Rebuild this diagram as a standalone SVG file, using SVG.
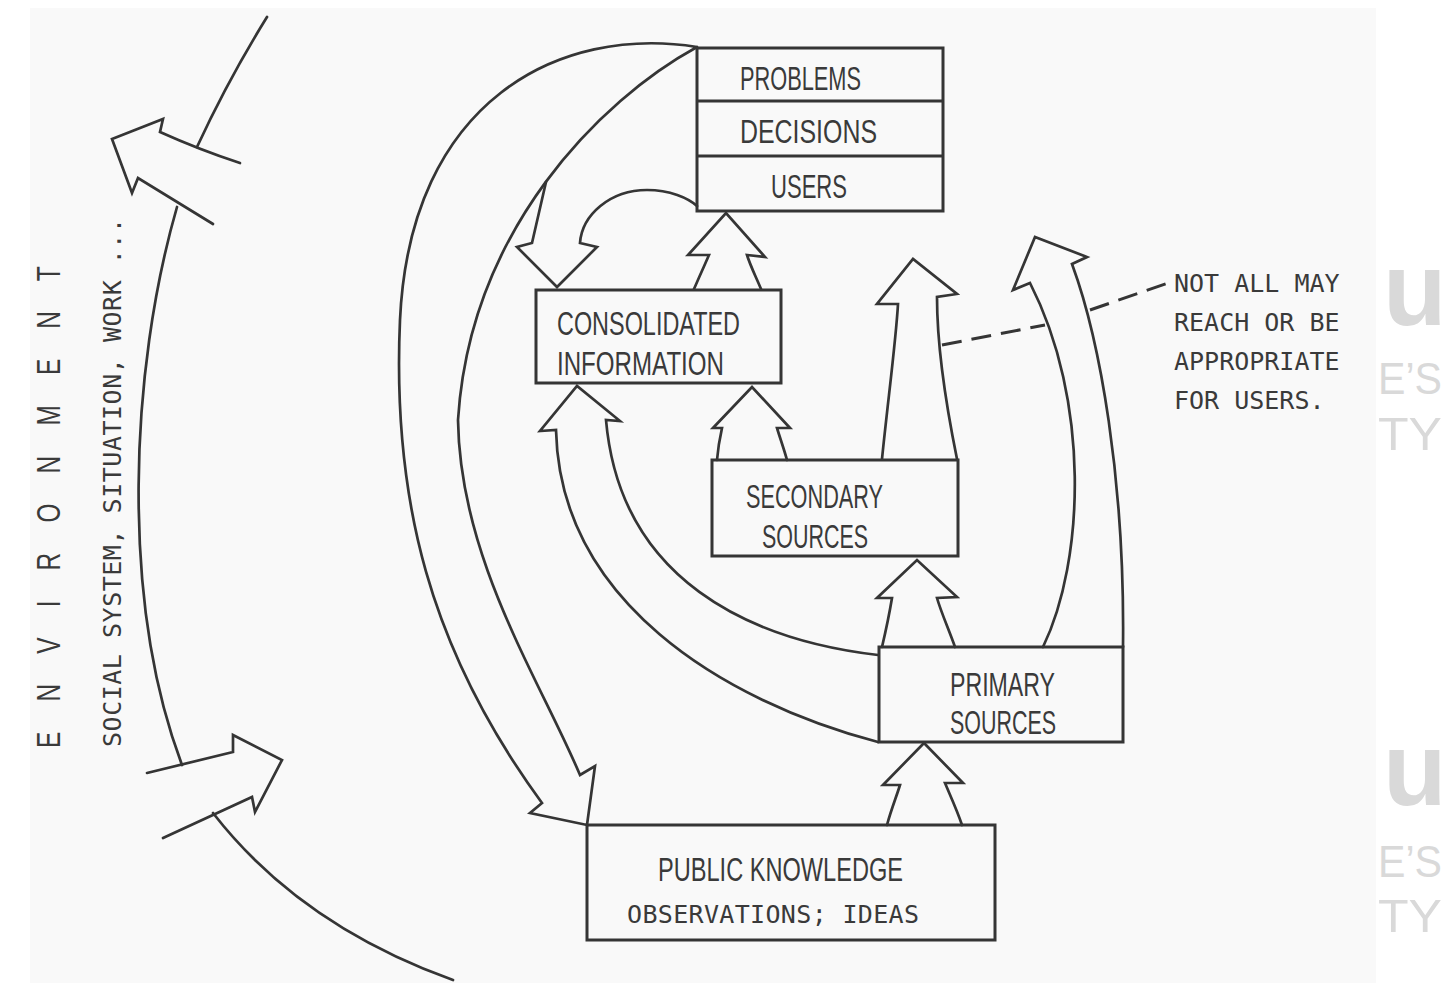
<svg xmlns="http://www.w3.org/2000/svg" width="1452" height="983" viewBox="0 0 1452 983">
<style>
.ln{fill:none;stroke:#353535;stroke-width:2.7;stroke-linejoin:miter;stroke-linecap:round}
.box{fill:none;stroke:#353535;stroke-width:3}
.lbl{font-family:"Liberation Sans",Arial,sans-serif;font-size:34px;fill:#3a3a3a}
.mono{font-family:"DejaVu Sans Mono","Liberation Mono",monospace;font-size:25px;fill:#3a3a3a}
.wm{font-family:"Liberation Sans",Arial,sans-serif;fill:#d9d9d9}
.dash{fill:none;stroke:#353535;stroke-width:3;stroke-dasharray:20 10}
</style>
<rect x="0" y="0" width="1452" height="983" fill="#ffffff"/>
<rect x="30" y="8" width="1346" height="975" fill="#f9f9f9"/>

<g id="environment">
  <path class="ln" d="M267,17 Q228,80 197,147"/>
  <path class="ln" d="M177,207 C130,370 120,600 182,765"/>
  <path class="ln" d="M213,813 Q300,925 453,980"/>
  <path class="ln" d="M240,163 Q200,150 160,132 L163,119 L112,139 L132,193 L138,178 L213,224"/>
  <path class="ln" d="M147,773 L233,752 L233,735 L282,760 L255,812 L252,797 L163,838"/>
  <text class="lbl" transform="translate(60,748) rotate(-90) scale(0.72,1)" font-size="36" textLength="669" lengthAdjust="spacing">E N V I R O N M E N T</text>
  <text class="mono" transform="translate(121,747) rotate(-90)" textLength="529" lengthAdjust="spacing">SOCIAL SYSTEM, SITUATION, WORK ...</text>
</g>

<g id="connectors">
  <!-- Problems/Users -> Public knowledge (big left arrow) -->
  <path class="ln" d="M697,47 C560,25 410,100 400,320 C392,500 430,650 542,803 L530,813 L587,825 L595,766 L580,775 C540,680 460,560 458,420 C470,230 600,100 697,47"/>
  <!-- branch down to Consolidated -->
  <path class="ln" d="M546,182 L532,243 L517,247 L557,287 L597,247 L580,243 C582,215 610,190 647,190 C670,190 688,198 697,206"/>
  <!-- Consolidated -> Users -->
  <path class="ln" d="M694,289 C700,275 706,262 709,255 L688,255 L726,213 L765,257 L747,255 C750,265 756,277 761,289"/>
  <!-- Secondary -> Consolidated -->
  <path class="ln" d="M717,460 C718,448 720,437 722,428 L713,428 L752,387 L790,428 L777,428 C780,438 784,449 787,460"/>
  <!-- Primary -> Consolidated (curved) -->
  <path class="ln" d="M878,742 C720,700 560,600 556,430 L540,431 L577,386 L620,421 L606,420 C620,580 750,640 878,655"/>
  <!-- Secondary -> up (not all reach) -->
  <path class="ln" d="M882,459 C888,400 896,340 898,304 L877,304 L913,259 L957,294 L937,297 C937,340 945,400 957,459"/>
  <!-- Primary -> up (big curved) -->
  <path class="ln" d="M1043,647 C1085,560 1090,400 1030,283 L1013,290 L1035,237 L1087,257 L1072,264 C1100,340 1125,480 1123,647"/>
  <!-- Primary -> Secondary -->
  <path class="ln" d="M882,647 C886,630 890,610 892,598 L877,598 L917,560 L957,597 L937,598 C941,612 949,630 955,647"/>
  <!-- Public -> Primary -->
  <path class="ln" d="M887,825 C891,810 897,795 900,785 L883,785 L924,743 L963,783 L945,783 C950,795 957,810 962,825"/>
  <!-- dashed annotation leader -->
  <path class="dash" d="M942,345 L1045,325"/>
  <path class="dash" d="M1090,310 L1168,283"/>
</g>

<g id="node-problems">
  <rect class="box" x="697" y="48" width="246" height="163"/>
  <line class="box" x1="697" y1="101" x2="943" y2="101"/>
  <line class="box" x1="697" y1="156" x2="943" y2="156"/>
  <text class="lbl" x="740" y="90" textLength="121" lengthAdjust="spacingAndGlyphs">PROBLEMS</text>
  <text class="lbl" x="740" y="143" textLength="137" lengthAdjust="spacingAndGlyphs">DECISIONS</text>
  <text class="lbl" x="771" y="198" textLength="76" lengthAdjust="spacingAndGlyphs">USERS</text>
</g>

<g id="node-consolidated">
  <rect class="box" x="536" y="290" width="245" height="93"/>
  <text class="lbl" x="557" y="335" textLength="183" lengthAdjust="spacingAndGlyphs">CONSOLIDATED</text>
  <text class="lbl" x="557" y="375" textLength="167" lengthAdjust="spacingAndGlyphs">INFORMATION</text>
</g>

<g id="node-secondary">
  <rect class="box" x="712" y="460" width="246" height="96"/>
  <text class="lbl" x="746" y="508" textLength="137" lengthAdjust="spacingAndGlyphs">SECONDARY</text>
  <text class="lbl" x="762" y="548" textLength="106" lengthAdjust="spacingAndGlyphs">SOURCES</text>
</g>

<g id="node-primary">
  <rect class="box" x="879" y="647" width="244" height="95"/>
  <text class="lbl" x="950" y="696" textLength="105" lengthAdjust="spacingAndGlyphs">PRIMARY</text>
  <text class="lbl" x="950" y="734" textLength="106" lengthAdjust="spacingAndGlyphs">SOURCES</text>
</g>

<g id="node-public">
  <rect class="box" x="587" y="825" width="408" height="115"/>
  <text class="lbl" x="658" y="881" textLength="245" lengthAdjust="spacingAndGlyphs">PUBLIC KNOWLEDGE</text>
  <text class="mono" x="627" y="923" textLength="292" lengthAdjust="spacing">OBSERVATIONS; IDEAS</text>
</g>

<g id="note">
  <text class="mono" x="1174" y="292">NOT ALL MAY</text>
  <text class="mono" x="1174" y="331">REACH OR BE</text>
  <text class="mono" x="1174" y="370">APPROPRIATE</text>
  <text class="mono" x="1174" y="409">FOR USERS.</text>
</g>

<g id="watermark">
  <text class="wm" x="1383" y="325" font-size="104" font-weight="bold">u</text>
  <text class="wm" x="1378" y="394" font-size="44" textLength="64" lengthAdjust="spacingAndGlyphs">E’S</text>
  <text class="wm" x="1378" y="450" font-size="46" textLength="64" lengthAdjust="spacingAndGlyphs">TY</text>
  <text class="wm" x="1383" y="805" font-size="104" font-weight="bold">u</text>
  <text class="wm" x="1378" y="877" font-size="44" textLength="64" lengthAdjust="spacingAndGlyphs">E’S</text>
  <text class="wm" x="1378" y="932" font-size="46" textLength="64" lengthAdjust="spacingAndGlyphs">TY</text>
</g>
</svg>
